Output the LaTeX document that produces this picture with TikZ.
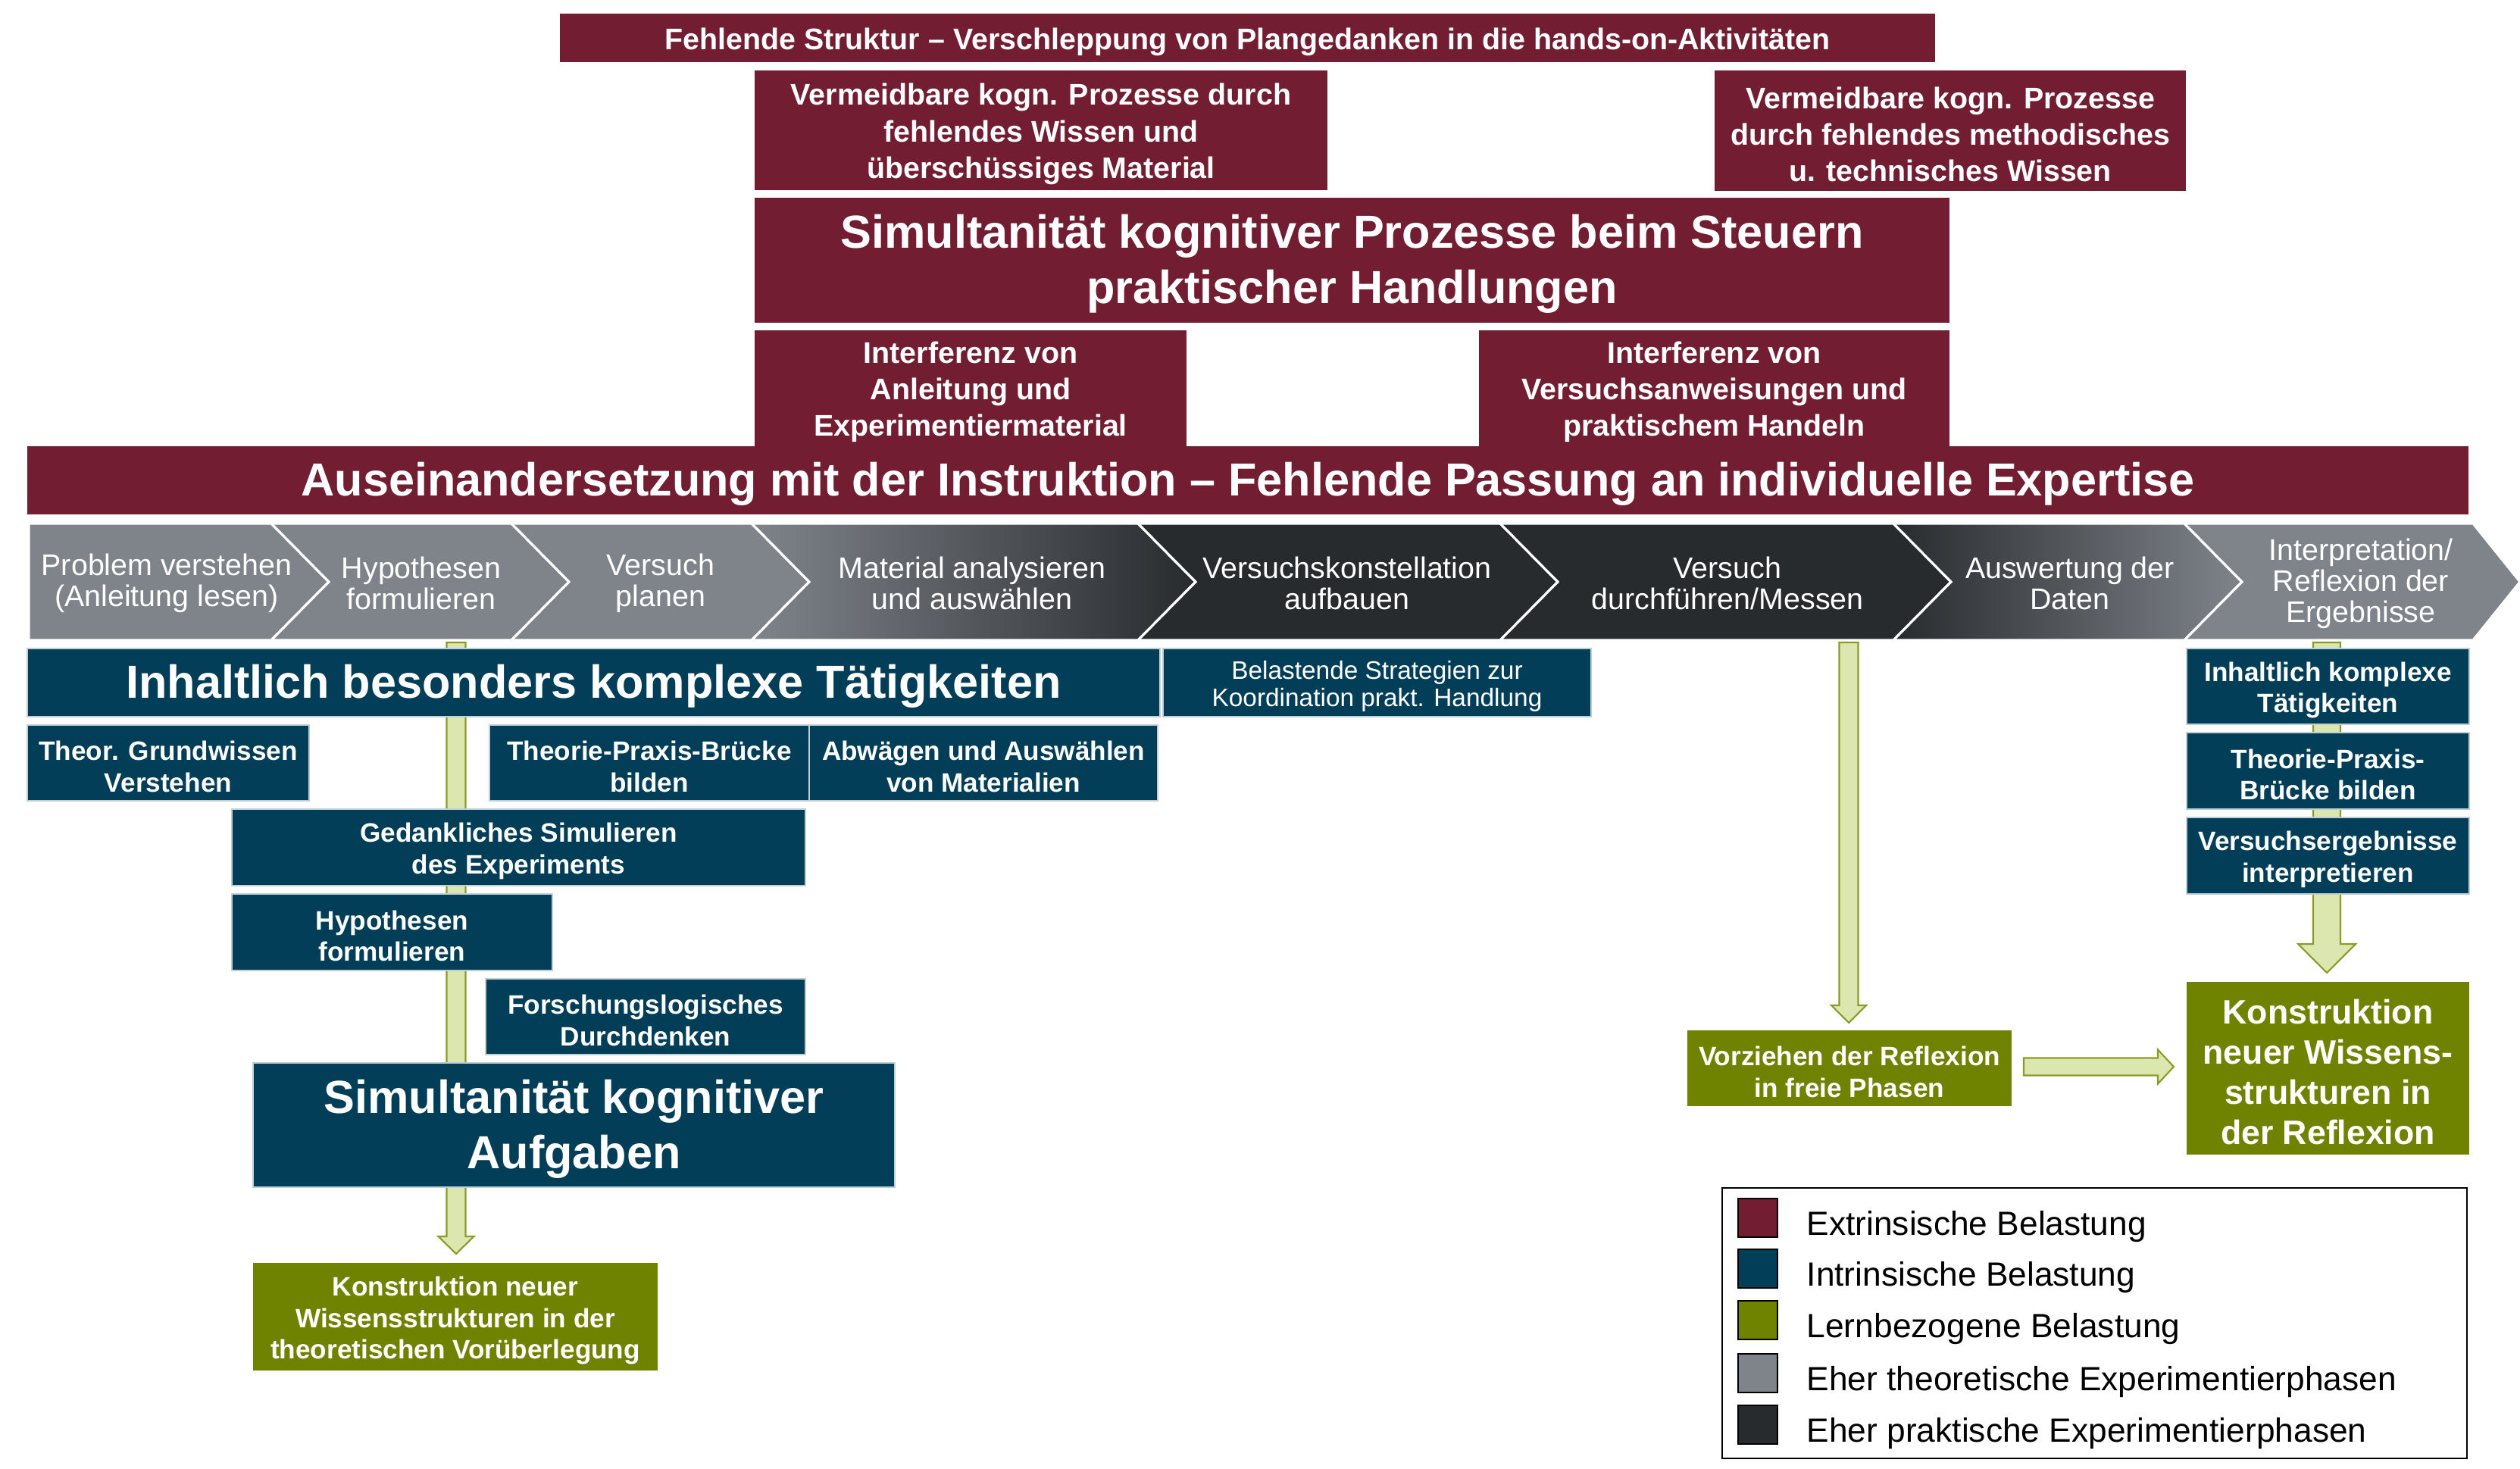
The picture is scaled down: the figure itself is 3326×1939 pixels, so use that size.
\documentclass[tikz,border=0pt]{standalone}
\usepackage{fontspec}
\setmainfont{Liberation Sans}
\usetikzlibrary{calc}
\definecolor{cMaroon}{RGB}{114,29,50}
\definecolor{cTeal}{RGB}{2,62,88}
\definecolor{cGreen}{RGB}{111,131,0}
\definecolor{cLight}{RGB}{220,230,175}
\definecolor{cOlive}{RGB}{140,155,40}
\definecolor{cGray}{RGB}{127,132,139}
\definecolor{cDark}{RGB}{40,43,46}
\tikzset{
  base/.style={inner sep=0pt, outer sep=0pt, align=center, text=white},
  mbox/.style={base, fill=cMaroon},
  tbox/.style={base, fill=cTeal, draw=white!75!cTeal, line width=0.4pt},
  gbox/.style={base, fill=cGreen},
  bigtxt/.style={font=\fontsize{17.4}{20.8}\selectfont\bfseries},
  medtxt/.style={font=\fontsize{11.2}{13.7}\selectfont\bfseries},
  smltxt/.style={font=\fontsize{10}{11.8}\selectfont\bfseries},
  chevtxt/.style={text=white, align=center, inner sep=0pt, font=\fontsize{11.2}{11.7}\selectfont},
  chevshape/.style={draw=white, line width=0.9pt, line join=miter},
  garrow/.style={fill=cLight, draw=cOlive, line width=0.6pt, line join=miter},
  swatch/.style={draw=black, line width=0.5pt, minimum width=0.52cm, minimum height=0.51cm, inner sep=0pt, outer sep=0pt},
  legtxt/.style={inner sep=0pt, text=black, font=\fontsize{12.6}{14}\selectfont},
}
% box: name, style, x1, y1, x2, y2, text ; text node is shifted a little down
\newcommand\Bx[7]{\node[#2, minimum width={(#5-#3)*0.01cm}, minimum height={(#6-#4)*0.01cm}, anchor=north west] (#1) at (#3,#4) {};
  \node[#2, fill=none, draw=none] (#1-t) at ($(#1.center)+(0,5)$) {#7};}
\newcommand\VArrow[5]{\draw[garrow] let \p1=(#1), \p2=(#2) in
  ({\x1-#3*0.01cm},\y1) -- ({\x1+#3*0.01cm},\y1) -- ({\x1+#3*0.01cm},{\y2+#5*0.01cm}) -- ({\x1+#4*0.01cm},{\y2+#5*0.01cm}) -- (\x1,\y2) -- ({\x1-#4*0.01cm},{\y2+#5*0.01cm}) -- ({\x1-#3*0.01cm},{\y2+#5*0.01cm}) -- cycle;}
\newcommand\HArrow[5]{\draw[garrow] let \p1=(#1), \p2=(#2) in
  (\x1,{\y1+#3*0.01cm}) -- ({\x2-#5*0.01cm},{\y1+#3*0.01cm}) -- ({\x2-#5*0.01cm},{\y1+#4*0.01cm}) -- (\x2,\y1) -- ({\x2-#5*0.01cm},{\y1-#4*0.01cm}) -- ({\x2-#5*0.01cm},{\y1-#3*0.01cm}) -- (\x1,{\y1-#3*0.01cm}) -- cycle;}
\newcommand\Chev[3]{\path[chevshape,#3] (#1,691) -- (#2,691) -- (#2+76,768) -- (#2,845) -- (#1,845) -- (#1+76,768) -- cycle;}
\begin{document}
\begin{tikzpicture}[x=0.01cm, y=-0.01cm]
\useasboundingbox (0,0) rectangle (3326,1939);
\fill[white] (0,0) rectangle (3326,1939);

% ---------- extrinsic (top) ----------
\Bx{fehl}{mbox,medtxt}{739}{18}{2554}{82}{Fehlende Struktur -- Verschleppung von Plangedanken in die hands-on-Aktivitäten}
\Bx{verm1}{mbox,medtxt}{996}{93}{1752}{251}{Vermeidbare kogn. Prozesse durch\\fehlendes Wissen und\\überschüssiges Material}
\Bx{verm2}{mbox,medtxt}{2263}{93}{2885}{252}{Vermeidbare kogn. Prozesse\\durch fehlendes methodisches\\u. technisches Wissen}
\Bx{simP}{mbox,bigtxt}{996}{261}{2573}{426}{Simultanität kognitiver Prozesse beim Steuern\\praktischer Handlungen}
\Bx{interf1}{mbox,medtxt}{996}{436}{1566}{589}{Interferenz von\\Anleitung und\\Experimentiermaterial}
\Bx{interf2}{mbox,medtxt}{1952}{436}{2573}{589}{Interferenz von\\Versuchsanweisungen und\\praktischem Handeln}
\Bx{ausein}{mbox,bigtxt}{36}{589}{3258}{679}{Auseinandersetzung mit der Instruktion -- Fehlende Passung an individuelle Expertise}

% ---------- phase chevrons ----------
\path[chevshape, fill=cGray] (38,691) -- (358,691) -- (434,768) -- (358,845) -- (38,845) -- cycle;
\Chev{358}{675}{fill=cGray}
\Chev{675}{992}{fill=cGray}
\Chev{992}{1502}{left color=cGray, right color=cDark}
\Chev{1502}{1980}{fill=cDark}
\Chev{1980}{2499}{fill=cDark}
\Chev{2499}{2883}{left color=cDark, right color=cGray}
\path[chevshape, fill=cGray] (2883,691) -- (3264,691) -- (3326,768) -- (3264,845) -- (2883,845) -- (2959,768) -- cycle;
\node[chevtxt] (c1) at (220,770) {Problem verstehen\\(Anleitung lesen)};
\node[chevtxt] (c2) at (556,770) {Hypothesen\\formulieren};
\node[chevtxt] (c3) at (872,770) {Versuch\\planen};
\node[chevtxt] (c4) at (1283,770) {Material analysieren\\und auswählen};
\node[chevtxt] (c5) at (1778,770) {Versuchskonstellation\\aufbauen};
\node[chevtxt] (c6) at (2280,770) {Versuch\\durchführen/Messen};
\node[chevtxt] (c7) at (2732,770) {Auswertung der\\Daten};
\node[chevtxt] (c8) at (3116,770) {Interpretation/\\Reflexion der\\Ergebnisse};

% ---------- block arrows (behind boxes) ----------
\coordinate (aL0) at (602,848);  \coordinate (aL1) at (602,1655);
\coordinate (aM0) at (2440,848); \coordinate (aM1) at (2440,1350);
\coordinate (aR0) at (3071,848); \coordinate (aR1) at (3071,1284);
\coordinate (aH0) at (2671,1408); \coordinate (aH1) at (2869,1408);
\VArrow{aL0}{aL1}{12.5}{23.5}{23}
\VArrow{aM0}{aM1}{12.5}{23}{23}
\VArrow{aR0}{aR1}{18}{38}{38}
\HArrow{aH0}{aH1}{11.5}{22.5}{21}

% ---------- intrinsic (left) ----------
\Bx{inh}{tbox,bigtxt}{36}{856}{1531}{946}{Inhaltlich besonders komplexe Tätigkeiten}
\Bx{bel}{tbox,font=\fontsize{9.5}{10.3}\selectfont}{1535}{856}{2100}{946}{Belastende Strategien zur\\Koordination prakt. Handlung}
\Bx{theor}{tbox,smltxt}{36}{957}{408}{1057}{Theor. Grundwissen\\Verstehen}
\Bx{tpb}{tbox,smltxt}{646}{957}{1068}{1057}{Theorie-Praxis-Brücke\\bilden}
\Bx{abw}{tbox,smltxt}{1068}{957}{1528}{1057}{Abwägen und Auswählen\\von Materialien}
\Bx{ged}{tbox,smltxt}{306}{1068}{1063}{1169}{Gedankliches Simulieren\\des Experiments}
\Bx{hyp}{tbox,smltxt}{306}{1180}{729}{1281}{Hypothesen\\formulieren}
\Bx{fors}{tbox,smltxt}{641}{1292}{1063}{1392}{Forschungslogisches\\Durchdenken}
\Bx{simA}{tbox,bigtxt}{334}{1403}{1181}{1567}{Simultanität kognitiver\\Aufgaben}
\Bx{konL}{gbox,smltxt}{334}{1667}{868}{1809}{Konstruktion neuer\\Wissensstrukturen in der\\theoretischen Vorüberlegung}

% ---------- right column ----------
\Bx{inhR}{tbox,smltxt}{2886}{856}{3259}{956}{Inhaltlich komplexe\\Tätigkeiten}
\Bx{tpbR}{tbox,smltxt}{2886}{967}{3259}{1068}{Theorie-Praxis-\\Brücke bilden}
\Bx{verR}{tbox,smltxt}{2886}{1079}{3259}{1180}{Versuchsergebnisse\\interpretieren}
\Bx{vorz}{gbox,smltxt}{2227}{1360}{2655}{1460}{Vorziehen der Reflexion\\in freie Phasen}
\Bx{konR}{gbox,font=\fontsize{12.7}{15}\selectfont\bfseries}{2886}{1296}{3259}{1524}{Konstruktion\\neuer Wissens-\\strukturen in\\der Reflexion}

% ---------- legend ----------
\node[draw=black, line width=0.6pt, minimum width=9.82cm, minimum height=3.57cm, inner sep=0pt, outer sep=0pt, anchor=north west] (legend) at (2273,1568) {};
\node[swatch, fill=cMaroon, anchor=north west] (s1) at (2294,1582) {};
\node[swatch, fill=cTeal, anchor=north west] (s2) at (2294,1649) {};
\node[swatch, fill=cGreen, anchor=north west] (s3) at (2294,1717) {};
\node[swatch, fill=cGray, anchor=north west] (s4) at (2294,1787) {};
\node[swatch, fill=cDark, anchor=north west] (s5) at (2294,1855) {};
\node[legtxt, anchor=base west] (l1) at (2384,1630) {Extrinsische Belastung};
\node[legtxt, anchor=base west] (l2) at (2384,1697) {Intrinsische Belastung};
\node[legtxt, anchor=base west] (l3) at (2384,1765) {Lernbezogene Belastung};
\node[legtxt, anchor=base west] (l4) at (2384,1835) {Eher theoretische Experimentierphasen};
\node[legtxt, anchor=base west] (l5) at (2384,1903) {Eher praktische Experimentierphasen};
\end{tikzpicture}
\end{document}
